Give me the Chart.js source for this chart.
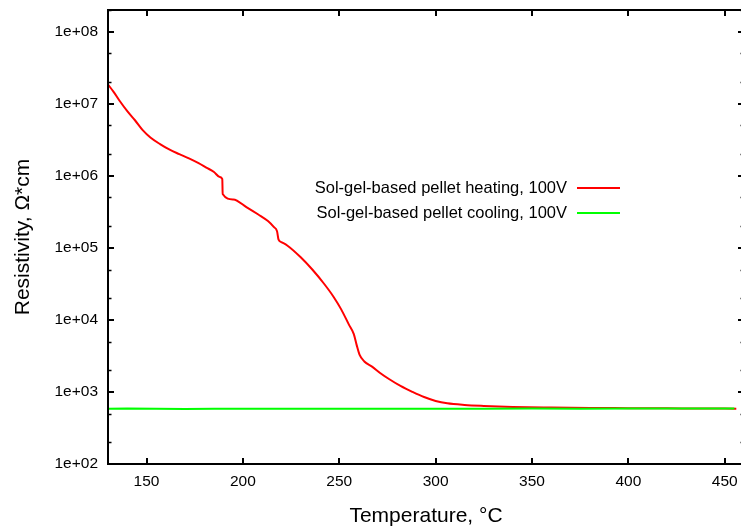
<!DOCTYPE html>
<html>
<head>
    <title>Resistivity vs temperature</title>
    <script src="https://cdn.jsdelivr.net/npm/chart.js"></script>
    <style>
        body {
            margin: 0;
            background: white;
            overflow: hidden;
        }
        .wrap {
            position: relative;
            width: 749px;
            height: 529px;
        }
    </style>
</head>
<body>
    <div class="wrap">
        <canvas id="chart"></canvas>
    </div>

<script>
    // heating run
    const heatT = [130, 133, 136, 140, 144, 148, 152, 157, 162, 167, 172, 177, 181, 185, 188, 189.3,
        189.5, 195, 202, 208, 213, 216, 217.7, 218.5, 220, 223, 230, 236, 242, 247, 251, 255,
        257.5, 259, 260.5, 263, 267, 271, 276, 282, 288, 294, 300, 306, 315, 325, 340, 360,
        380, 400, 420, 440, 456];
    const heatR = [1.85e7, 1.45e7, 1.1e7, 7.9e6, 5.9e6, 4.3e6, 3.4e6, 2.75e6, 2.3e6, 2.0e6, 1.75e6, 1.5e6, 1.3e6, 1.13e6, 9.6e5, 9.0e5,
        5.6e5, 4.7e5, 3.65e5, 2.9e5, 2.35e5, 1.95e5, 1.7e5, 1.3e5, 1.2e5, 1.08e5, 7.4e4, 5.0e4, 3.2e4, 2.1e4, 1.4e4, 8.6e3,
        6.4e3, 4.5e3, 3.3e3, 2.65e3, 2.25e3, 1.85e3, 1.5e3, 1.2e3, 1.0e3, 850, 750, 695, 660, 640, 620, 608,
        600, 596, 592, 590, 585];

    // cooling run, essentially flat
    const coolT = [130, 140, 155, 170, 185, 200, 225, 250, 275, 300, 325, 350, 375, 400, 425, 440, 455];
    const coolR = [583, 590, 586, 582, 585, 584, 583, 585, 584, 586, 585, 587, 586, 588, 590, 588, 589];

    const seriesLabels = ['Sol-gel-based pellet heating, 100V', 'Sol-gel-based pellet cooling, 100V'];
    const seriesColors = ['#ff0000', '#00ff00'];

    const xTicks = [150, 200, 250, 300, 350, 400, 450];
    const yTicks = [1e2, 1e3, 1e4, 1e5, 1e6, 1e7, 1e8];
    const yMinor = [2, 5];

    const toPoints = (xs, ys) => xs.map((x, i) => ({x: x, y: ys[i]}));

    function expLabel(v) {
        const e = Math.round(Math.log10(v));
        return '1e+' + String(e).padStart(2, '0');
    }

    // gnuplot style frame with inward ticks on all four sides + legend inside the plot
    const framePlugin = {
        id: 'frame',
        afterDatasetsDraw(chart) {
            const ctx = chart.ctx;
            const a = chart.chartArea;
            const xs = chart.scales.x, ys = chart.scales.y;
            ctx.save();
            ctx.strokeStyle = '#000';
            ctx.lineWidth = 2;
            ctx.strokeRect(a.left, a.top, a.right - a.left, a.bottom - a.top);

            ctx.beginPath();
            xTicks.forEach(t => {
                const px = Math.round(xs.getPixelForValue(t));
                ctx.moveTo(px, a.bottom); ctx.lineTo(px, a.bottom - 6);
                ctx.moveTo(px, a.top); ctx.lineTo(px, a.top + 6);
            });
            yTicks.forEach(t => {
                const py = Math.round(ys.getPixelForValue(t));
                ctx.moveTo(a.left, py); ctx.lineTo(a.left + 6, py);
                ctx.moveTo(a.right, py); ctx.lineTo(a.right - 6, py);
            });
            ctx.stroke();

            ctx.beginPath();
            ctx.lineWidth = 1.5;
            for (let d = 1e2; d < 2e8; d *= 10) {
                yMinor.forEach(m => {
                    const v = d * m;
                    if (v > ys.max) return;
                    const py = Math.round(ys.getPixelForValue(v)) + 0.5;
                    ctx.moveTo(a.left, py); ctx.lineTo(a.left + 3.5, py);
                    ctx.moveTo(a.right, py); ctx.lineTo(a.right - 3.5, py);
                });
            }
            ctx.stroke();

            // legend: text right aligned, line sample on the right
            ctx.font = '16.5px "Liberation Sans", Arial, sans-serif';
            ctx.textAlign = 'right';
            ctx.textBaseline = 'middle';
            const rows = [188, 213];
            chart.data.datasets.forEach((ds, i) => {
                ctx.fillStyle = '#000';
                ctx.fillText(ds.label, 567, rows[i]);
                ctx.strokeStyle = ds.borderColor;
                ctx.lineWidth = 2;
                ctx.beginPath();
                ctx.moveTo(577, rows[i]);
                ctx.lineTo(620, rows[i]);
                ctx.stroke();
            });
            ctx.restore();
        }
    };

    new Chart(document.getElementById('chart'), {
        type: 'line',
        data: {
            datasets: [{
                label: seriesLabels[0],
                data: toPoints(heatT, heatR),
                borderColor: seriesColors[0],
                borderWidth: 2,
                pointRadius: 0,
                cubicInterpolationMode: 'monotone',
                order: 1
            }, {
                label: seriesLabels[1],
                data: toPoints(coolT, coolR),
                borderColor: seriesColors[1],
                borderWidth: 2,
                pointRadius: 0,
                tension: 0,
                order: 0
            }]
        },
        plugins: [framePlugin],
        options: {
            responsive: true,
            maintainAspectRatio: false,
            animation: false,
            layout: {
                padding: {top: 10, right: 5, left: 0, bottom: 0}
            },
            plugins: {
                legend: {display: false},
                tooltip: {enabled: false}
            },
            scales: {
                x: {
                    type: 'linear',
                    min: 130,
                    max: 460,
                    afterBuildTicks: s => { s.ticks = xTicks.map(v => ({value: v})); },
                    afterFit: s => { s.height = 65; s.paddingLeft = 0; s.paddingRight = 0; },
                    grid: {display: false, drawTicks: false},
                    border: {display: false},
                    ticks: {
                        color: '#000',
                        padding: 8,
                        maxRotation: 0,
                        font: {family: '"Liberation Sans", Arial, sans-serif', size: 15.5}
                    },
                    title: {
                        display: true,
                        text: 'Temperature, °C',
                        color: '#000',
                        padding: {top: 4, bottom: 0},
                        font: {family: '"Liberation Sans", Arial, sans-serif', size: 21}
                    }
                },
                y: {
                    type: 'logarithmic',
                    min: 100,
                    max: 2e8,
                    afterBuildTicks: s => { s.ticks = yTicks.map(v => ({value: v})); },
                    afterFit: s => { s.width = 108; s.paddingTop = 0; s.paddingBottom = 0; },
                    grid: {display: false, drawTicks: false},
                    border: {display: false},
                    ticks: {
                        color: '#000',
                        padding: 10,
                        font: {family: '"Liberation Sans", Arial, sans-serif', size: 15.5},
                        callback: v => expLabel(v)
                    },
                    title: {
                        display: true,
                        text: 'Resistivity, Ω*cm',
                        color: '#000',
                        padding: {top: 11, bottom: 0},
                        font: {family: '"Liberation Sans", Arial, sans-serif', size: 21}
                    }
                }
            }
        }
    });
</script>
</body>
</html>
